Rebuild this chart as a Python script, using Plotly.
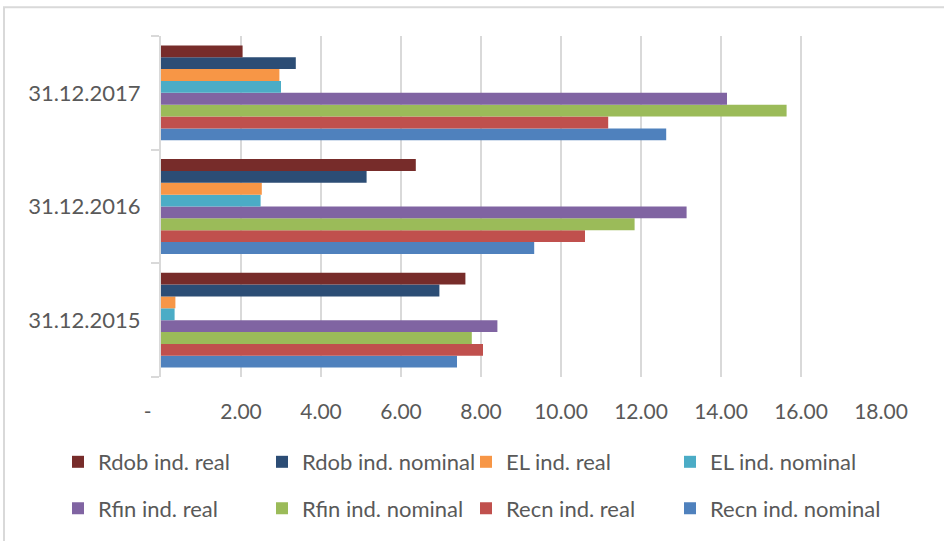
import plotly.graph_objects as go

categories = ["31.12.2015", "31.12.2016", "31.12.2017"]

# series listed bottom-to-top within each category group
series_names = ["Recn ind. nominal", "Recn ind. real", "Rfin ind. nominal", "Rfin ind. real",
                "EL ind. nominal", "EL ind. real", "Rdob ind. nominal", "Rdob ind. real"]
recn_nominal = [7.40, 9.33, 12.63]
recn_real = [8.05, 10.60, 11.18]
rfin_nominal = [7.77, 11.84, 15.64]
rfin_real = [8.41, 13.14, 14.15]
el_nominal = [0.34, 2.49, 3.00]
el_real = [0.36, 2.52, 2.96]
rdob_nominal = [6.96, 5.14, 3.37]
rdob_real = [7.61, 6.37, 2.04]
series_values = [recn_nominal, recn_real, rfin_nominal, rfin_real,
                 el_nominal, el_real, rdob_nominal, rdob_real]
colors = ["#4F81BD", "#C0504D", "#9BBB59", "#8064A2",
          "#4BACC6", "#F79646", "#2C4D75", "#772C2A"]

x_tick_vals = [0, 2, 4, 6, 8, 10, 12, 14, 16, 18]
x_tick_text = ["-\u00a0\u00a0\u00a0\u00a0\u00a0", "2.00", "4.00", "6.00", "8.00", "10.00",
               "12.00", "14.00", "16.00", "18.00"]

FONT = "Lato, Carlito, 'Liberation Sans Narrow', sans-serif"
TXT = "#595959"
GRID = "#D9D9D9"

fig = go.Figure()
for i, (name, vals, col) in enumerate(zip(series_names, series_values, colors)):
    # top row of legend: Rdob/EL ; bottom row: Rfin/Recn
    legend = "legend" if i >= 4 else "legend2"
    extra = {}
    if i in (0, 4):  # last entry of each legend row gets room for its full label
        extra["legendwidth"] = 200
    fig.add_trace(go.Bar(
        y=categories, x=vals, name=name, orientation="h",
        marker=dict(color=col, line=dict(width=0)),
        legend=legend, legendrank=100 - i, **extra,
    ))

W, H = 944, 541
L, R, T, B = 161, 63, 36, 160
pw, ph = W - L - R, H - T - B


def px_x(x):
    return (x - L) / pw


def px_y(y):
    return (H - B - y) / ph


legend_common = dict(orientation="h", xanchor="left", yanchor="middle",
                     entrywidth=159, entrywidthmode="pixels", itemwidth=30,
                     font=dict(family=FONT, size=22, color=TXT), bgcolor="rgba(0,0,0,0)")

fig.update_layout(
    width=W, height=H,
    margin=dict(l=L, r=R, t=T, b=B),
    paper_bgcolor="white", plot_bgcolor="white",
    barmode="group", bargap=0.165, bargroupgap=0,
    font=dict(family=FONT, size=21, color=TXT),
    xaxis=dict(range=[0, 18], tickvals=x_tick_vals, ticktext=x_tick_text,
               showgrid=True, gridcolor=GRID, gridwidth=2, zeroline=False,
               showline=False, ticks="", ticklabelstandoff=20,
               tickfont=dict(family=FONT, size=21, color=TXT)),
    yaxis=dict(range=[-0.5, 2.5], showline=True, linecolor=GRID, linewidth=2,
               ticks="outside", tickson="boundaries", ticklen=8, tickcolor=GRID,
               tickwidth=2, showgrid=False, ticklabelstandoff=14,
               tickfont=dict(family=FONT, size=22, color=TXT)),
    legend=dict(x=px_x(58), y=px_y(467), **legend_common),
    legend2=dict(x=px_x(58), y=px_y(514), **legend_common),
    showlegend=True,
    shapes=[dict(type="rect", xref="paper", yref="paper",
                 x0=px_x(4), x1=px_x(960), y0=px_y(560), y1=px_y(7),
                 line=dict(color=GRID, width=2), fillcolor="rgba(0,0,0,0)", layer="below")],
)

fig.write_html("out.html")
